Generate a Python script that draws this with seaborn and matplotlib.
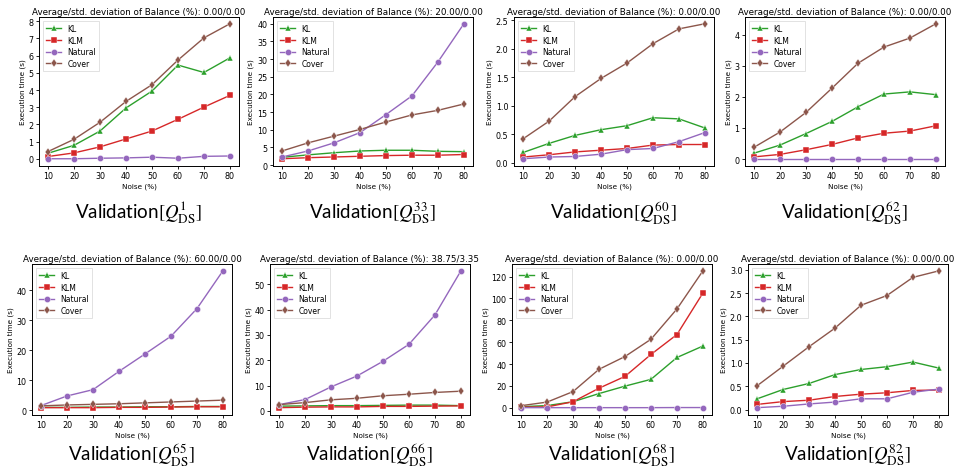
import numpy as np
import pandas as pd
import matplotlib
matplotlib.use("Agg")
import matplotlib.pyplot as plt
import seaborn as sns

noise = [10, 20, 30, 40, 50, 60, 70, 80]
methods = ["KL", "KLM", "Natural", "Cover"]
queries = ["1", "33", "60", "62", "65", "66", "68", "82"]
balance = ["0.00/0.00", "20.00/0.00", "0.00/0.00", "0.00/0.00",
           "60.00/0.00", "38.75/3.35", "0.00/0.00", "0.00/0.00"]

q1_kl = [0.33, 0.79, 1.62, 2.96, 3.94, 5.45, 5.02, 5.87]
q1_klm = [0.14, 0.35, 0.70, 1.16, 1.62, 2.30, 3.01, 3.69]
q1_nat = [0.01, 0.01, 0.04, 0.06, 0.10, 0.04, 0.15, 0.17]
q1_cov = [0.43, 1.14, 2.13, 3.34, 4.31, 5.74, 7.03, 7.85]

q33_kl = [2.2, 2.9, 3.5, 4.0, 4.2, 4.2, 3.9, 3.8]
q33_klm = [1.8, 2.1, 2.3, 2.5, 2.7, 2.8, 2.8, 3.0]
q33_nat = [2.3, 4.0, 6.3, 9.2, 14.3, 19.6, 29.2, 40.0]
q33_cov = [4.0, 6.3, 8.2, 10.1, 12.2, 14.2, 15.5, 17.3]

q60_kl = [0.18, 0.34, 0.48, 0.58, 0.65, 0.79, 0.77, 0.61]
q60_klm = [0.10, 0.14, 0.19, 0.22, 0.25, 0.31, 0.32, 0.32]
q60_nat = [0.07, 0.10, 0.11, 0.15, 0.23, 0.25, 0.37, 0.53]
q60_cov = [0.42, 0.73, 1.16, 1.48, 1.75, 2.09, 2.35, 2.44]

q62_kl = [0.19, 0.45, 0.82, 1.21, 1.68, 2.09, 2.16, 2.07]
q62_klm = [0.07, 0.15, 0.30, 0.47, 0.68, 0.83, 0.90, 1.07]
q62_nat = [0.01, 0.01, 0.01, 0.01, 0.01, 0.01, 0.01, 0.01]
q62_cov = [0.38, 0.87, 1.50, 2.28, 3.08, 3.60, 3.89, 4.35]

q65_kl = [1.0, 1.0, 1.1, 1.1, 1.2, 1.2, 1.3, 1.3]
q65_klm = [0.9, 0.9, 0.9, 1.0, 1.0, 1.1, 1.2, 1.2]
q65_nat = [1.6, 4.8, 6.9, 13.0, 18.8, 24.7, 33.9, 46.5]
q65_cov = [1.5, 1.8, 2.0, 2.2, 2.5, 2.8, 3.1, 3.4]

q66_kl = [1.9, 2.0, 2.1, 2.1, 2.2, 2.3, 2.3, 2.1]
q66_klm = [1.3, 1.5, 1.6, 1.6, 1.8, 1.8, 1.9, 2.0]
q66_nat = [2.5, 4.5, 9.5, 13.8, 19.6, 26.3, 37.9, 55.3]
q66_cov = [2.5, 3.3, 4.4, 5.0, 6.0, 6.6, 7.3, 7.8]

q68_kl = [1.0, 2.0, 5.5, 13.0, 19.8, 26.0, 46.0, 56.5]
q68_klm = [0.6, 0.8, 5.5, 17.9, 28.7, 48.8, 67.0, 105.0]
q68_nat = [0.1, 0.1, 0.1, 0.1, 0.1, 0.1, 0.2, 0.2]
q68_cov = [1.9, 5.2, 14.8, 35.2, 46.9, 62.7, 90.4, 125.3]

q82_kl = [0.23, 0.43, 0.56, 0.75, 0.86, 0.92, 1.02, 0.89]
q82_klm = [0.11, 0.17, 0.20, 0.28, 0.33, 0.36, 0.41, 0.42]
q82_nat = [0.04, 0.07, 0.12, 0.16, 0.23, 0.23, 0.37, 0.44]
q82_cov = [0.51, 0.93, 1.35, 1.75, 2.24, 2.45, 2.84, 2.98]

series = [
    (q1_kl, q1_klm, q1_nat, q1_cov),
    (q33_kl, q33_klm, q33_nat, q33_cov),
    (q60_kl, q60_klm, q60_nat, q60_cov),
    (q62_kl, q62_klm, q62_nat, q62_cov),
    (q65_kl, q65_klm, q65_nat, q65_cov),
    (q66_kl, q66_klm, q66_nat, q66_cov),
    (q68_kl, q68_klm, q68_nat, q68_cov),
    (q82_kl, q82_klm, q82_nat, q82_cov),
]

colors = {"KL": "#2ca02c", "KLM": "#d62728", "Natural": "#9467bd", "Cover": "#8c564b"}
markers = {"KL": "^", "KLM": "s", "Natural": "o", "Cover": "d"}

plt.rcParams["mathtext.fontset"] = "stix"

W, H = 958, 477
fig = plt.figure(figsize=(W / 100, H / 100), dpi=100)

# axes boxes in pixels: left, top, bottom
lefts_top = [39, 273, 514, 745]
lefts_bot = [32, 270, 512, 748]
aw = 200
boxes = [(l, 18, 166.5) for l in lefts_top] + [(l, 265, 415.5) for l in lefts_bot]

for i, (vals, (lp, tp, bp)) in enumerate(zip(series, boxes)):
    ax = fig.add_axes([lp / W, 1 - bp / H, aw / W, (bp - tp) / H])
    rows = []
    for m, v in zip(methods, vals):
        for x, y in zip(noise, v):
            rows.append({"Noise": x, "Time": y, "Method": m})
    df = pd.DataFrame(rows)
    sns.lineplot(data=df, x="Noise", y="Time", hue="Method", style="Method",
                 palette=colors, markers=markers, dashes=False,
                 hue_order=methods, style_order=methods,
                 linewidth=1.0, markersize=4.5, markeredgewidth=0.3,
                 ax=ax)
    ax.set_title("Average/std. deviation of Balance (%): " + balance[i],
                 fontsize=6.3, pad=2.5)
    ax.set_xlabel("Noise (%)", fontsize=5.2, labelpad=1.5)
    ax.set_ylabel("Execution time (s)", fontsize=5.2, labelpad=2)
    ax.set_xticks(noise)
    ax.tick_params(labelsize=5.8, length=2.5, width=0.6, pad=1.5)
    for s in ax.spines.values():
        s.set_linewidth(0.7)
    leg = ax.legend(loc="upper left", fontsize=5.5, frameon=True,
                    borderpad=0.4, handlelength=2.0, labelspacing=0.35,
                    fancybox=False)
    leg.get_frame().set_linewidth(0.5)
    cx = (lp + aw / 2) / W
    cy = 1 - (213 if i < 4 else 455) / H
    fig.text(cx, cy, r"Validation$[Q_{\mathrm{DS}}^{" + queries[i] + r"}]$",
             ha="center", va="center", fontsize=13.5, family="Lato")

fig.savefig("out.png", dpi=100)
